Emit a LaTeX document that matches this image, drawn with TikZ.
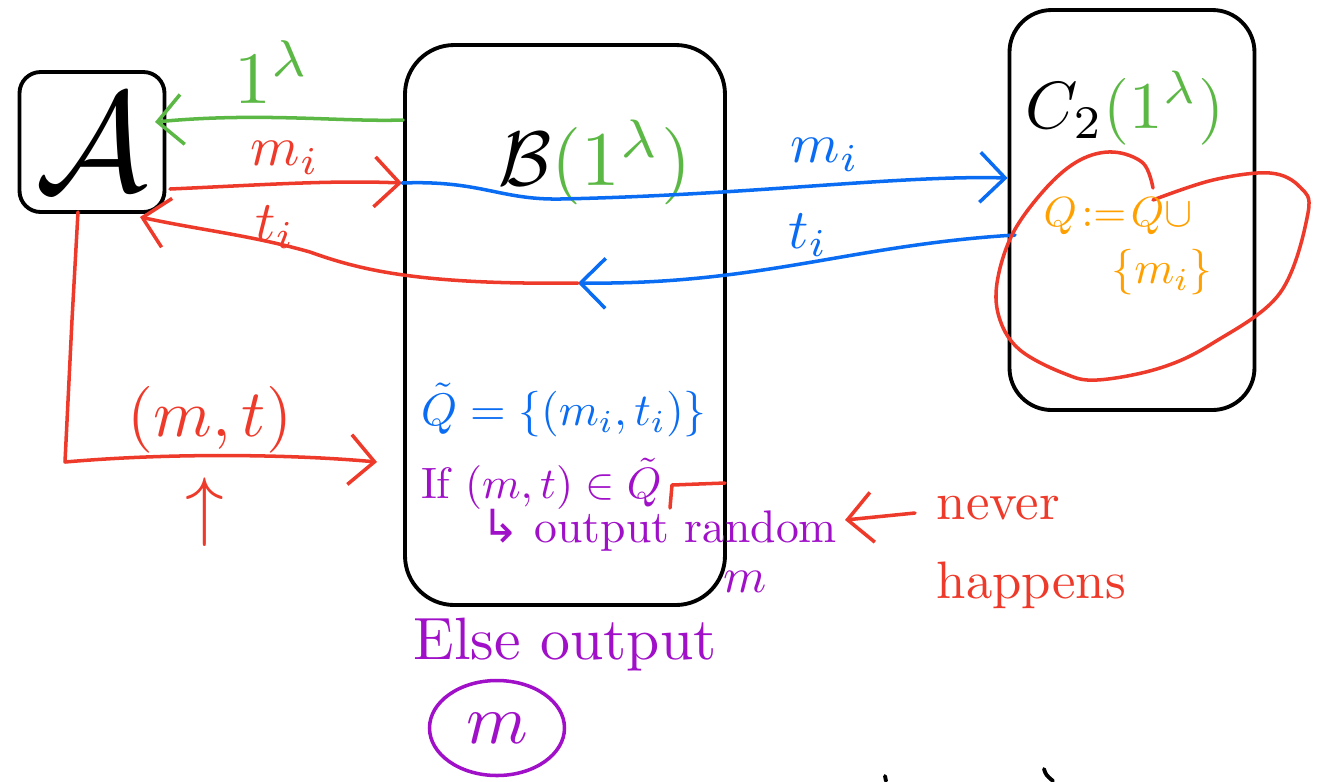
\documentclass[tikz,border=0pt]{standalone}
\usepackage{amsmath,amssymb}
\usepackage{fontspec}
\newfontfamily\arrowfont{DejaVu Sans}
\usetikzlibrary{arrows.meta,shapes.geometric}
\definecolor{lamgreen}{HTML}{5CB845}
\definecolor{msgred}{HTML}{EE3A2A}
\definecolor{tagblue}{HTML}{0A6CF2}
\definecolor{qorange}{HTML}{FFA000}
\definecolor{outpurple}{HTML}{A010C8}

\begin{document}
\begin{tikzpicture}[
  line cap=round, line join=round,
  box/.style={draw, line width=1.1pt, rounded corners=#1},
  lbl/.style={scale=#1/10, transform shape, inner sep=0.5pt},
  arr/.style={-{Straight Barb[length=2.5mm,width=5mm]}, line width=1pt}
]
\useasboundingbox (0,0) rectangle (13.18,-7.81);

% parties
\node[box=6pt, minimum width=1.45cm, minimum height=1.4cm] (A) at (0.92,-1.42) {};
\node[lbl=40] (Aname) at (A) {$\mathcal{A}$};
\node[box=14pt, minimum width=3.2cm, minimum height=5.6cm] (B) at (5.65,-3.25) {};
\node[lbl=22] (Bname) at (5.95,-1.62) {$\mathcal{B}$\textcolor{lamgreen}{$(1^\lambda)$}};
\node[box=12pt, minimum width=2.45cm, minimum height=4cm] (C) at (11.32,-2.10) {};
\node[lbl=19] (Cname) at (11.25,-1.08) {$C_2$\textcolor{lamgreen}{$(1^\lambda)$}};

% end points on the boxes
\coordinate (Bout) at (B.west |- 0,-1.20);
\coordinate (Ain) at (1.55,-1.22);
\coordinate (Aout) at (1.70,-1.89);
\coordinate (Bin) at (4.02,-1.83);
\coordinate (Cin) at (C.west |- 0,-1.78);
\coordinate (Cout) at (10.15,-2.35);
\coordinate (Bturn) at (5.78,-2.83);
\coordinate (Aback) at (1.40,-2.17);
\coordinate (Adown) at (0.78,-2.12);
\coordinate (Acorner) at (0.65,-4.62);
\coordinate (mtEnd) at (3.77,-4.62);

% 1^lambda handed to A
\draw[arr, lamgreen] (Bout) .. controls (3.4,-1.22) and (2.6,-1.12) .. (Ain);
\node[lbl=21, text=lamgreen] (lam) at (2.72,-0.72) {$1^\lambda$};

% queries m_i and tags t_i
\draw[arr, msgred] (Aout) .. controls (2.6,-1.85) and (3.3,-1.80) .. (Bin);
\node[lbl=16, text=msgred] (mA) at (2.85,-1.58) {$m_i$};
\draw[arr, tagblue] (Bin) .. controls (4.8,-1.80) and (5.0,-2.0) .. (5.6,-1.99)
  .. controls (7.5,-1.95) and (9.0,-1.75) .. (Cin);
\node[lbl=16, text=tagblue] (mC) at (8.25,-1.55) {$m_i$};
\draw[arr, tagblue] (Cout) .. controls (8.5,-2.45) and (7.6,-2.85) .. (Bturn);
\node[lbl=16, text=tagblue] (tC) at (8.08,-2.35) {$t_i$};
\draw[arr, msgred] (Bturn) .. controls (4.2,-2.85) and (3.6,-2.70) .. (3.1,-2.52)
  .. controls (2.5,-2.35) and (2.0,-2.30) .. (Aback);
\node[lbl=16, text=msgred] (tA) at (2.75,-2.27) {$t_i$};

% forgery (m,t)
\draw[arr, msgred] (Adown) -- (0.72,-3.2) -- (Acorner)
  .. controls (1.8,-4.52) and (3.0,-4.55) .. (mtEnd);
\node[lbl=19, text=msgred] (mt) at (2.10,-4.20) {$(m,t)$};
\node[lbl=22, text=msgred] (up) at (2.05,-5.12) {$\uparrow$};

% C_2 keeps the queried messages
\draw[msgred, line width=1pt] plot[smooth, tension=0.6] coordinates {
  (11.53,-1.88) (11.43,-1.63) (11.13,-1.52) (10.80,-1.60) (10.47,-1.87)
  (10.13,-2.33) (9.97,-2.83) (10.00,-3.20) (10.20,-3.50) (10.63,-3.73)
  (10.97,-3.80) (11.60,-3.68) (12.13,-3.43) (12.80,-2.93) (13.08,-2.13)
  (13.00,-1.87) (12.70,-1.73) (12.13,-1.80) (11.53,-2.00)};
\node[lbl=12, text=qorange] (Qupd) at (11.18,-2.16) {$Q\!:=\!Q\cup$};
\node[lbl=13, text=qorange] (Qnew) at (11.62,-2.72) {$\{m_i\}$};

% B's bookkeeping
\node[lbl=13, text=tagblue] (Qt) at (5.64,-4.10) {$\tilde{Q}=\{(m_i,t_i)\}$};
\node[lbl=12.5, text=outpurple, anchor=west] (iff) at (4.18,-4.84) {If $(m,t)\in\tilde{Q}$};
\draw[msgred, line width=1pt] (7.25,-4.83) -- (6.72,-4.85) -- (6.70,-5.08);
\node[lbl=13, text=outpurple, anchor=west] (rnd) at (4.78,-5.30) {{\arrowfont ↳} output random};
\node[lbl=14, text=outpurple] (rndm) at (7.45,-5.82) {$m$};

\node[lbl=15, text=msgred, align=left, anchor=west] (never) at (9.33,-5.52) {never\\[3pt]happens};
\coordinate (nvTail) at (9.15,-5.13);
\coordinate (nvHead) at (8.45,-5.20);
\draw[arr, msgred] (nvTail) -- (nvHead);

\node[lbl=17, text=outpurple] (else) at (5.65,-6.45) {Else output};
\node[draw=outpurple, ellipse, line width=1pt,
  minimum width=1.35cm, minimum height=0.95cm] (mout) at (4.97,-7.28) {};
\node[lbl=20, text=outpurple] (moutm) at (mout) {$m$};

% marks cut at the lower edge
\draw[line width=1.1pt] (8.85,-7.76) -- (8.86,-7.81);
\draw[line width=1.1pt] (10.44,-7.69) .. controls (10.46,-7.75) .. (10.53,-7.81);
\end{tikzpicture}
\end{document}
